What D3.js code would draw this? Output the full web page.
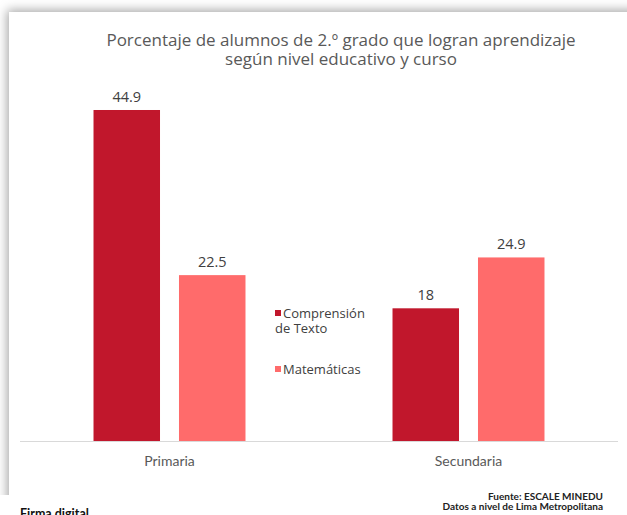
<!DOCTYPE html>
<html>
  <head>
    <meta charset="UTF-8" />
    <title></title>
    <style>
      body { margin: 0; background: #fff; }
      #wrap {
        position: absolute; left: 0; top: 0;
        width: 627px; height: 495px; overflow: hidden;
      }
      #card {
        position: absolute; left: 9px; top: 12px;
        width: 700px; height: 600px; background: #fff;
        box-shadow: 0 0 10px 2px rgba(0, 0, 0, 0.35);
      }
      #viz { position: absolute; left: 0; top: 0; }
    </style>
    <script src="https://d3js.org/d3.v7.min.js"></script>
  </head>
  <body>
    <div id="wrap"><div id="card"></div></div>
    <svg id="viz" width="627" height="515"></svg>
    <script>
      const categories = ['Primaria', 'Secundaria'];
      const series = ['Comprensión de Texto', 'Matemáticas'];
      const comprension = [44.9, 18];
      const matematicas = [22.5, 24.9];
      const colors = ['#C1172C', '#FF6B6B'];
      const titleLines = [
        'Porcentaje de alumnos de 2.º grado que logran aprendizaje',
        'según nivel educativo y curso',
      ];
      const sourceLines = ['Fuente: ESCALE MINEDU', 'Datos a nivel de Lima Metropolitana'];

      const svg = d3.select('#viz');
      const margin = { left: 20, right: 9, baseline: 441 };

      const x0 = d3.scaleBand()
        .domain(categories)
        .range([margin.left, 627 - margin.right])
        .padding(0);
      const x1 = d3.scaleBand()
        .domain(series)
        .range([0, x0.bandwidth()])
        .paddingInner(0.222)
        .paddingOuter(0.86);
      const y = d3.scaleLinear().domain([0, 50]).range([margin.baseline, 72.4]);

      // title
      svg.append('g').selectAll('text')
        .data(titleLines)
        .join('text')
        .attr('x', 341)
        .attr('y', (d, i) => 46 + i * 19)
        .attr('text-anchor', 'middle')
        .attr('font-family', 'Open Sans, sans-serif')
        .attr('font-size', 17)
        .attr('fill', '#595959')
        .text((d) => d);

      const rows = categories.map((c, i) => ({
        cat: c,
        vals: [comprension[i], matematicas[i]],
      }));

      const groups = svg.append('g').selectAll('g')
        .data(rows)
        .join('g')
        .attr('transform', (d) => `translate(${x0(d.cat)},0)`);

      groups.selectAll('rect')
        .data((d) => d.vals.map((v, j) => ({ s: series[j], v, j })))
        .join('rect')
        .attr('x', (d) => x1(d.s))
        .attr('y', (d) => y(d.v))
        .attr('width', x1.bandwidth())
        .attr('height', (d) => y(0) - y(d.v))
        .attr('fill', (d) => colors[d.j]);

      groups.selectAll('text')
        .data((d) => d.vals.map((v, j) => ({ s: series[j], v, j })))
        .join('text')
        .attr('x', (d) => x1(d.s) + x1.bandwidth() / 2)
        .attr('y', (d) => y(d.v) - 8)
        .attr('text-anchor', 'middle')
        .attr('font-family', 'Open Sans, sans-serif')
        .attr('font-size', 14.5)
        .attr('fill', '#404040')
        .text((d) => d.v);

      // baseline + category labels
      const xAxis = svg.append('g')
        .attr('transform', `translate(0,${margin.baseline})`)
        .call(d3.axisBottom(x0).tickSize(0).tickPadding(15));
      xAxis.select('.domain').attr('stroke', '#d9d9d9').attr('d', `M${margin.left},0.5H618`);
      xAxis.selectAll('text')
        .attr('font-family', 'Lato, sans-serif')
        .attr('font-size', 14)
        .attr('fill', '#595959');

      // legend
      const legend = svg.append('g').attr('transform', 'translate(275,0)');
      const legendRows = [
        { lines: ['Comprensión', 'de Texto'], y: 318 },
        { lines: ['Matemáticas'], y: 374 },
      ];
      legendRows.forEach((r, i) => {
        legend.append('rect')
          .attr('x', 0).attr('y', r.y - 8)
          .attr('width', 6).attr('height', 6)
          .attr('fill', colors[i]);
        legend.append('text')
          .attr('font-family', 'Open Sans, sans-serif')
          .attr('font-size', 13)
          .attr('fill', '#404040')
          .selectAll('tspan')
          .data(r.lines)
          .join('tspan')
          .attr('x', (d, k) => (k === 0 ? 8 : 0))
          .attr('y', (d, k) => r.y + k * 15)
          .text((d) => d);
      });

      // source
      svg.append('g').selectAll('text')
        .data(sourceLines)
        .join('text')
        .attr('x', 603)
        .attr('y', (d, i) => 500 + i * 10)
        .attr('text-anchor', 'end')
        .attr('font-family', 'Lato, sans-serif')
        .attr('font-weight', 'bold')
        .attr('font-size', 10)
        .attr('fill', '#222')
        .text((d) => d);

      svg.append('text')
        .attr('x', 20)
        .attr('y', 518)
        .attr('font-family', 'Lato, sans-serif')
        .attr('font-weight', 'bold')
        .attr('font-size', 12.5)
        .attr('fill', '#111')
        .text('Firma digital');
    </script>
  </body>
</html>
